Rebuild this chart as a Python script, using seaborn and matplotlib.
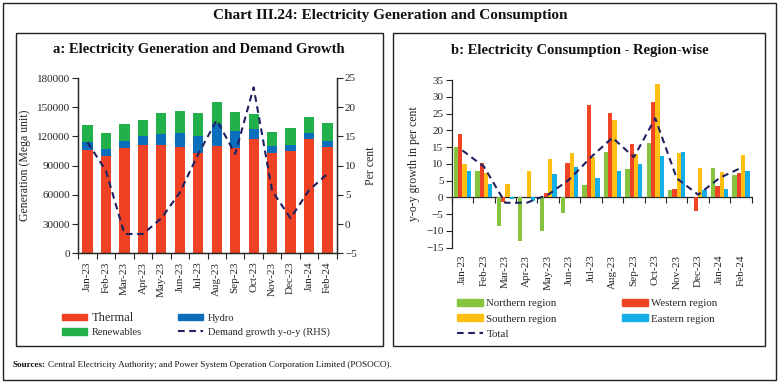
import numpy as np
import pandas as pd
import matplotlib
matplotlib.use("Agg")
import matplotlib.pyplot as plt
from matplotlib.patches import Rectangle, Patch
from matplotlib.lines import Line2D
from matplotlib.transforms import offset_copy
import seaborn as sns

# ---------------- data ----------------
months = ["Jan-23", "Feb-23", "Mar-23", "Apr-23", "May-23", "Jun-23", "Jul-23",
          "Aug-23", "Sep-23", "Oct-23", "Nov-23", "Dec-23", "Jan-24", "Feb-24"]

thermal = [106200, 99400, 108300, 111400, 111400, 109300, 102500,
           109700, 108000, 117300, 103500, 105200, 117300, 109300]
hydro = [7600, 7900, 7500, 8900, 11300, 14100, 18200,
         23300, 17100, 10600, 6200, 6200, 6100, 5500]
renewables = [18200, 16100, 17200, 16500, 20900, 22600, 22900,
              22300, 19500, 15400, 14800, 16800, 16500, 18500]
demand_growth = [14.0, 9.1, -1.7, -1.7, 1.0, 5.4, 12.0,
                 17.8, 12.0, 23.4, 5.7, 1.0, 5.8, 8.6]

northern = [14.9, 7.8, -8.5, -13.1, -9.9, -4.8, 3.6,
            13.4, 8.6, 16.2, 2.1, 0.0, 8.7, 6.7]
western = [18.9, 10.4, -1.5, 0.0, 1.2, 10.2, 27.5,
           25.2, 16.0, 28.5, 2.6, -4.2, 3.3, 7.2]
southern = [9.9, 7.3, 4.0, 7.8, 11.4, 13.3, 11.9,
            23.0, 12.8, 33.9, 13.3, 8.7, 7.7, 12.6]
eastern = [7.8, 4.1, -0.5, -1.2, 7.0, 9.2, 5.7,
           7.8, 10.1, 12.3, 13.6, 2.2, 2.5, 7.9]
total = [14.0, 9.2, -1.6, -1.6, 0.8, 5.4, 12.0,
         17.8, 12.0, 23.6, 5.7, 0.8, 5.8, 8.8]

regions = ["Northern region", "Western region", "Southern region", "Eastern region"]

# ---------------- style ----------------
sns.set_theme(style="white")
plt.rcParams["font.family"] = ["Liberation Serif", "DejaVu Serif"]
plt.rcParams["axes.linewidth"] = 0.9

C_TH = "#EF4123"
C_HY = "#0A6EBD"
C_RE = "#22B04B"
C_LN = "#1F2160"
C_N = "#86C440"
C_W = "#F04424"
C_S = "#FFBE12"
C_E = "#14AEE8"
DASH = (0, (3.2, 2.2))

W, H = 779, 383
fig = plt.figure(figsize=(W / 100, H / 100), dpi=100)


def fx(px):
    return px / W


def fy(py):
    return 1 - py / H


def frame(x0, y0, x1, y1, lw=1.0):
    fig.patches.append(Rectangle((fx(x0), fy(y1)), fx(x1) - fx(x0), fy(y0) - fy(y1),
                                 transform=fig.transFigure, fill=False,
                                 edgecolor="#222222", linewidth=lw))


frame(3, 3, 776, 380)
frame(15.5, 32.5, 382.5, 346)
frame(393, 32.5, 765, 346)

fig.text(fx(390), fy(16), "Chart III.24: Electricity Generation and Consumption",
         ha="center", va="center", fontsize=11, fontweight="bold", color="#111111")
fig.text(fx(199), fy(50), "a: Electricity Generation and Demand Growth",
         ha="center", va="center", fontsize=10.5, fontweight="bold", color="#111111")
fig.text(fx(580), fy(50.5), "b: Electricity Consumption - Region-wise",
         ha="center", va="center", fontsize=10.5, fontweight="bold", color="#111111")
src_b = fig.text(fx(13), fy(365), "Sources:", ha="left", va="center",
                 fontsize=6.6, fontweight="bold", color="#111111")
fig.canvas.draw()
bb = src_b.get_window_extent(renderer=fig.canvas.get_renderer())
fig.text(bb.x1 / W + fx(2.5), fy(365),
         "Central Electricity Authority; and Power System Operation Corporation Limited (POSOCO).",
         ha="left", va="center", fontsize=6.6, color="#111111")

idx = np.arange(len(months))
TICK_FS = 8

# ---------------- panel a ----------------
axa = fig.add_axes([fx(78.3), fy(253.3), fx(336.7) - fx(78.3), fy(78) - fy(253.3)])
cum_hydro = [t + h for t, h in zip(thermal, hydro)]
cum_total = [t + h + r for t, h, r in zip(thermal, hydro, renewables)]
dfa = pd.DataFrame({"month": months, "thermal": thermal,
                    "hydro_top": cum_hydro, "total": cum_total})
sns.barplot(data=dfa, x="month", y="total", color=C_RE, width=0.55,
            saturation=1, ax=axa, linewidth=0)
sns.barplot(data=dfa, x="month", y="hydro_top", color=C_HY, width=0.55,
            saturation=1, ax=axa, linewidth=0)
sns.barplot(data=dfa, x="month", y="thermal", color=C_TH, width=0.55,
            saturation=1, ax=axa, linewidth=0)
axa.set_xlim(-0.5, len(months) - 0.5)
axa.set_ylim(0, 180000)
axa.set_yticks(np.arange(0, 180001, 30000))
axa.set_xlabel("")
axa.set_ylabel("Generation (Mega unit)", fontsize=8.5, labelpad=4)
axa.set_xticks(idx)
axa.set_xticklabels(months, rotation=90, fontsize=TICK_FS)
axa.set_xticks(np.arange(-0.5, len(months), 1), minor=True)
axa.tick_params(axis="x", which="major", length=0, pad=6)
axa.tick_params(axis="x", which="minor", length=4, width=0.8, direction="out", bottom=True)
axa.tick_params(axis="y", length=4, width=0.8, direction="out", left=True,
                labelsize=TICK_FS, pad=2)
axa.spines["top"].set_visible(False)

axa2 = axa.twinx()
sns.lineplot(x=idx, y=demand_growth, ax=axa2, color=C_LN, linewidth=1.5,
             linestyle=DASH)
axa2.set_ylim(-5, 25)
axa2.set_yticks(np.arange(-5, 26, 5))
axa2.set_ylabel("Per cent", fontsize=8.5, labelpad=6)
axa2.tick_params(axis="y", length=4, width=0.8, direction="out", right=True,
                 labelsize=TICK_FS, pad=2)
axa2.spines["top"].set_visible(False)
axa2.set_xlim(-0.5, len(months) - 0.5)

handles_a = [Patch(color=C_TH, label="Thermal"),
             Patch(color=C_RE, label="Renewables"),
             Patch(color=C_HY, label="Hydro"),
             Line2D([0], [0], color=C_LN, linewidth=1.5, linestyle=DASH,
                    label="Demand growth y-o-y (RHS)")]
lega = fig.legend(handles=handles_a, loc="center left",
                  bbox_to_anchor=(fx(62), fy(324.5)), ncol=2, frameon=False,
                  fontsize=7.5, handlelength=2.4, handleheight=0.6,
                  handletextpad=0.45, columnspacing=3.5, labelspacing=0.45,
                  borderpad=0, borderaxespad=0)
lega.get_texts()[0].set_fontsize(9)

# ---------------- panel b ----------------
axb = fig.add_axes([fx(451.7), fy(247.7), fx(751.7) - fx(451.7), fy(80) - fy(247.7)])
dfb = pd.DataFrame({"month": months * 4,
                    "region": [r for r in regions for _ in months],
                    "value": northern + western + southern + eastern})
sns.barplot(data=dfb, x="month", y="value", hue="region", hue_order=regions,
            palette=[C_N, C_W, C_S, C_E], width=0.8, saturation=1, ax=axb,
            linewidth=0, legend=False)
sns.lineplot(x=idx, y=total, ax=axb, color=C_LN, linewidth=1.5, linestyle=DASH)
axb.set_xlim(-0.5, len(months) - 0.5)
axb.set_ylim(-15, 35)
axb.set_yticks(np.arange(-15, 36, 5))
axb.set_xlabel("")
axb.set_ylabel("y-o-y growth in per cent", fontsize=8.5, labelpad=4)
axb.set_xticks(idx)
axb.set_xticklabels(months, rotation=90, fontsize=TICK_FS)
axb.tick_params(axis="x", which="major", length=0, pad=5)
axb.tick_params(axis="y", length=4, width=0.8, direction="out", left=True,
                labelsize=TICK_FS, pad=2)
for s in ["top", "right", "bottom"]:
    axb.spines[s].set_visible(False)

sec = axb.secondary_xaxis(15 / 50)
sec.set_xticks(np.arange(-0.5, len(months), 1))
sec.set_xticklabels([])
sec.tick_params(axis="x", length=4, width=0.8, direction="out")
sec.spines["bottom"].set_linewidth(0.9)

handles_b = [Patch(color=C_N, label="Northern region"),
             Patch(color=C_S, label="Southern region"),
             Line2D([0], [0], color=C_LN, linewidth=1.5, linestyle=DASH,
                    label="Total"),
             Patch(color=C_W, label="Western region"),
             Patch(color=C_E, label="Eastern region")]
legb = fig.legend(handles=handles_b, loc="center left",
                  bbox_to_anchor=(fx(457), fy(319)), ncol=2, frameon=False,
                  fontsize=7.8, handlelength=2.4, handleheight=0.6,
                  handletextpad=0.3, columnspacing=6.0, labelspacing=0.55,
                  borderpad=0, borderaxespad=0)

fig.savefig("out.png", dpi=100)
